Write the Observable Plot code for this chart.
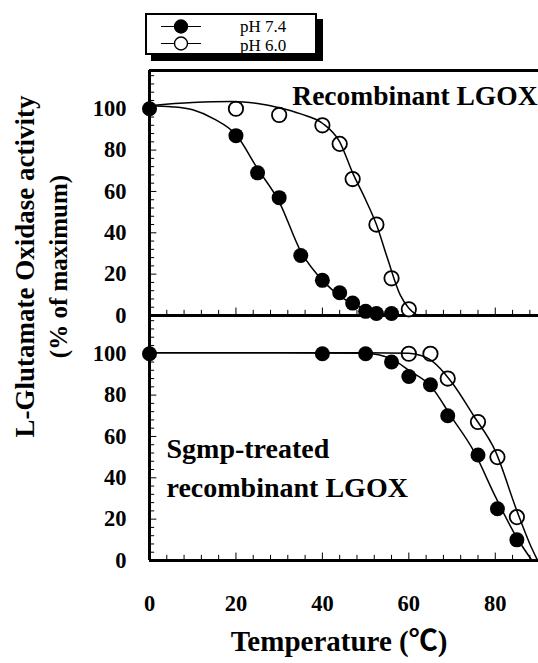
<!DOCTYPE html>
<html>
<head>
<meta charset="utf-8">
<script src="https://cdn.jsdelivr.net/npm/d3@7"></script>
<script src="https://cdn.jsdelivr.net/npm/@observablehq/plot@0.6"></script>
<style>
  body { margin: 0; background: white; }
  #fig { position: relative; width: 538px; height: 663px; background: white; font-family: "Liberation Serif", "Times New Roman", serif; }
  #legend { position: absolute; left: 145px; top: 13px; width: 168px; height: 38px; border: 2px solid black; background: white; box-shadow: 6px 6px 0 black; overflow: hidden; }
  #plot { position: absolute; left: 0; top: 68px; }
</style>
</head>
<body>
<div id="fig">
  <div id="legend"></div>
  <div id="plot"></div>
</div>
<script>
// ---- data ----
const panels = ["top", "bottom"];
const seriesLabels = ["pH 7.4", "pH 6.0"];
const panelTitles = ["Recombinant LGOX", "Sgmp-treated\nrecombinant LGOX"];
const xTicks = [0, 20, 40, 60, 80];
const yTicks = [0, 20, 40, 60, 80, 100];
const xLabel = "Temperature (\u2103)";
const yLabel1 = "L-Glutamate Oxidase activity";
const yLabel2 = "(% of maximum)";

// Recombinant LGOX (top)
const t74Top = [0, 20, 25, 30, 35, 40, 44, 47, 50, 52.5, 56];
const v74Top = [100, 87, 69, 57, 29, 17, 11, 6, 2, 1, 1];
const t60Top = [20, 30, 40, 44, 47, 52.5, 56, 60];
const v60Top = [100, 97, 92, 83, 66, 44, 18, 3];
// Sgmp-treated (bottom)
const t74Bot = [0, 40, 50, 56, 60, 65, 69, 76, 80.5, 85];
const v74Bot = [100, 100, 100, 96, 89, 85, 70, 51, 25, 10];
const t60Bot = [60, 65, 69, 76, 80.5, 85];
const v60Bot = [100, 100, 88, 67, 50, 21];

// fitted curves (traced)
const fitT74Top = [0, 5, 10, 15, 20, 25, 30, 35, 40, 45, 50, 55, 58];
const fitV74Top = [101.5, 101, 99.5, 95, 87.5, 71, 55, 31, 17, 8, 3, 0.5, 0];
const fitT60Top = [0, 10, 19, 25, 30, 35, 40, 44, 47, 50, 52.5, 55, 58, 60, 62];
const fitV60Top = [101.5, 103, 103.5, 102.5, 100.5, 97.5, 93, 84, 69, 56, 44, 28, 10, 3.5, 0];
const fitT74Bot = [0, 30, 50, 53, 56, 60, 65, 70, 75, 80, 85, 88.5];
const fitV74Bot = [100.5, 100.5, 100.3, 99.5, 97.5, 92, 84.5, 69, 53, 31, 11, 0];
const fitT60Bot = [0, 50, 60, 63, 65, 70, 75, 80, 85, 88, 89.8];
const fitV60Bot = [100.5, 100.5, 100.3, 99, 97, 86, 70, 53, 24, 8, 0];

// ---- tables ----
const rows = (panel, series, ts, vs) => ts.map((t, i) => ({panel, series, t, v: vs[i], key: panel + series}));
const filled = [...rows("top", seriesLabels[0], t74Top, v74Top), ...rows("bottom", seriesLabels[0], t74Bot, v74Bot)];
const open = [...rows("top", seriesLabels[1], t60Top, v60Top), ...rows("bottom", seriesLabels[1], t60Bot, v60Bot)];
const fits = [
  ...rows("top", seriesLabels[0], fitT74Top, fitV74Top),
  ...rows("top", seriesLabels[1], fitT60Top, fitV60Top),
  ...rows("bottom", seriesLabels[0], fitT74Bot, fitV74Bot),
  ...rows("bottom", seriesLabels[1], fitT60Bot, fitV60Bot)
];
const yMax = 118.5;
const xMinor = d3.range(0, 91, 4);
const yMinor = d3.range(0, yMax, 4);
const minorX = panels.flatMap(p => xMinor.map(t => ({panel: p, t, major: t % 20 === 0})));
const minorY = panels.flatMap(p => yMinor.map(v => ({panel: p, v, major: v % 20 === 0})));
const yTickRows = panels.flatMap(p => yTicks.map(v => ({panel: p, v})));
const xTickRows = xTicks.map(t => ({panel: "bottom", t}));

const font = "'Liberation Serif', 'Times New Roman', serif";
const fontDeg = "'Liberation Serif', 'Noto Sans CJK JP', serif";

const chart = Plot.plot({
  width: 538,
  height: 595,
  marginTop: 2,
  marginBottom: 103,
  marginLeft: 149,
  marginRight: 0,
  x: {domain: [0, 90], axis: null},
  y: {domain: [0, yMax], axis: null},
  fy: {domain: panels, padding: 0, axis: null, label: null},
  style: {fontFamily: font, background: "white", color: "black", overflow: "visible"},
  marks: [
    // inner ticks
    Plot.ruleX(minorX, {x: "t", y1: 0, y2: d => d.major ? 3.6 : 2.5, fy: "panel", stroke: "black", strokeWidth: 1}),
    Plot.ruleY(minorY, {y: "v", x1: 0, x2: d => d.major ? 1.7 : 1.2, fy: "panel", stroke: "black", strokeWidth: 1}),
    // frame lines
    Plot.ruleY([0], {stroke: "black", strokeWidth: 3}),
    Plot.ruleY([{panel: "top", v: yMax}], {y: "v", fy: "panel", stroke: "black", strokeWidth: 3}),
    Plot.ruleX([0], {stroke: "black", strokeWidth: 3}),
    // tick labels
    Plot.text(yTickRows, {x: 0, y: "v", fy: "panel", text: d => String(d.v), textAnchor: "end", dx: -23, fontSize: 22.5, fontWeight: "bold", fill: "black"}),
    Plot.text(xTickRows, {x: "t", y: 0, fy: "panel", text: d => String(d.t), textAnchor: "middle", dy: 43, fontSize: 22.5, fontWeight: "bold", fill: "black"}),
    // data
    Plot.dot(filled, {x: "t", y: "v", fy: "panel", r: 7.5, fill: "black", stroke: "none"}),
    Plot.dot(open, {x: "t", y: "v", fy: "panel", r: 7.2, fill: "white", stroke: "black", strokeWidth: 1.8}),
    Plot.line(fits, {x: "t", y: "v", z: "key", fy: "panel", curve: "monotone-x", stroke: "black", strokeWidth: 1.5}),
    // panel titles
    Plot.text([{panel: "top"}], {fy: "panel", frameAnchor: "top-right", text: () => panelTitles[0], textAnchor: "end", dx: -1, dy: 15, fontSize: 27.5, fontWeight: "bold", fill: "black"}),
    Plot.text([{panel: "bottom"}], {fy: "panel", frameAnchor: "bottom-left", text: () => panelTitles[1], textAnchor: "start", dx: 17, dy: -64, lineHeight: 1.38, fontSize: 28, fontWeight: "bold", fill: "black"}),
    // axis titles
    Plot.text([{panel: "bottom"}], {fy: "panel", frameAnchor: "bottom", text: () => xLabel, textAnchor: "middle", dx: -5, dy: 90, fontSize: 29, fontWeight: "bold", fill: "black", fontFamily: fontDeg}),
    Plot.text([{panel: "top"}], {fy: "panel", frameAnchor: "bottom-left", text: () => yLabel1, textAnchor: "middle", rotate: -90, dx: -116, dy: -49, fontSize: 27, fontWeight: "bold", fill: "black"}),
    Plot.text([{panel: "top"}], {fy: "panel", frameAnchor: "bottom-left", text: () => yLabel2, textAnchor: "middle", rotate: -90, dx: -83, dy: -49, fontSize: 25, fontWeight: "bold", fill: "black"})
  ]
});
document.getElementById("plot").appendChild(chart);

// legend
const lg = d3.select("#legend").append("svg").attr("width", 168).attr("height", 38);
seriesLabels.forEach((lab, i) => {
  const y = 11.5 + i * 17;
  lg.append("line").attr("x1", 14).attr("x2", 54).attr("y1", y).attr("y2", y).attr("stroke", "black").attr("stroke-width", 1.2);
  lg.append("circle").attr("cx", 34).attr("cy", y).attr("r", 6.5)
    .attr("fill", i === 0 ? "black" : "white").attr("stroke", "black").attr("stroke-width", 1.4);
  lg.append("text").attr("x", 93).attr("y", 16.5 + i * 19).attr("font-family", font).attr("font-size", 17).text(lab);
});
</script>
</body>
</html>
